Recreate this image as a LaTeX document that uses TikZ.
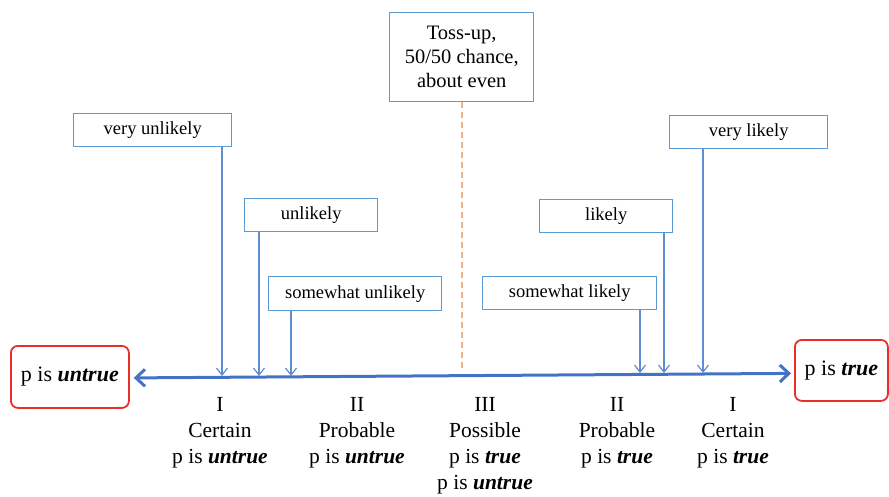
\documentclass[tikz,border=0pt]{standalone}
\usepackage{fontspec}
\setmainfont{Liberation Serif}
\usetikzlibrary{arrows.meta,calc}
\definecolor{boxblue}{RGB}{91,155,213}
\definecolor{lineblue}{RGB}{95,140,210}
\definecolor{axisblue}{RGB}{68,114,196}
\definecolor{boxred}{RGB}{232,48,40}
\definecolor{dashorange}{RGB}{244,177,131}
\tikzset{
  x=1pt, y=-1pt,
  labelbox/.style={draw=boxblue, line width=1.4pt, fill=white, inner sep=0pt,
    font=\fontsize{18.5}{22}\selectfont, anchor=north west},
  endbox/.style={draw=boxred, line width=1.8pt, rounded corners=7pt, inner sep=0pt,
    font=\fontsize{22}{26}\selectfont, anchor=north west},
  pointer/.style={draw=lineblue, line width=1.2pt,
    -{Straight Barb[length=7pt,width=11pt,line width=1.2pt]}},
  zone/.style={align=center, font=\fontsize{21.5}{26}\selectfont, anchor=north, inner sep=0pt}
}
\newcommand{\bi}[1]{\textbf{\textit{#1}}}
\begin{document}
\begin{tikzpicture}
\useasboundingbox (0,0) rectangle (889,496);

% central toss-up box and dashed divider
\node[labelbox, minimum width=144pt, minimum height=89pt, align=center,
  font=\fontsize{20.5}{24}\selectfont] (toss) at (389,12)
  {Toss-up,\\50/50 chance,\\about even};
\coordinate (mid) at (462,372);
\draw[dashorange, line width=2.2pt, dash pattern=on 6pt off 4pt] (toss.south -| mid) -- (mid);

% probability labels
\node[labelbox, minimum width=158pt, minimum height=33pt] (vu) at (73,113) {very unlikely};
\node[labelbox, minimum width=133pt, minimum height=33pt] (u)  at (244,198) {unlikely};
\node[labelbox, minimum width=173pt, minimum height=34pt] (su) at (268,276) {somewhat unlikely};
\node[labelbox, minimum width=158pt, minimum height=33pt] (vl) at (669,115) {very likely};
\node[labelbox, minimum width=133pt, minimum height=33pt] (l)  at (539,199) {likely};
\node[labelbox, minimum width=174pt, minimum height=33pt] (sl) at (482,276) {somewhat likely};

% end points of the scale
\node[endbox, minimum width=118pt, minimum height=62pt] (untrue) at (10,345) {p is \bi{untrue}};
\node[endbox, minimum width=93pt, minimum height=61pt] (true) at (794,339) {p is \bi{true}};

% the scale itself
\draw[axisblue, line width=3pt,
  {Straight Barb[length=9pt,width=17pt,line width=3pt]}-{Straight Barb[length=9pt,width=17pt,line width=3pt]}]
  ($(untrue.east)+(4,1)$) -- ($(true.west)+(-3,3)$);

% pointers onto the scale
\coordinate (pvu) at (222,376);
\coordinate (pu)  at (259,376);
\coordinate (psu) at (291,376);
\coordinate (psl) at (640,373);
\coordinate (pl)  at (664,373);
\coordinate (pvl) at (703,373);
\draw[pointer] (vu.south -| pvu) -- (pvu);
\draw[pointer] (u.south -| pu) -- (pu);
\draw[pointer] (su.south -| psu) -- (psu);
\draw[pointer] (sl.south -| psl) -- (psl);
\draw[pointer] (l.south -| pl) -- (pl);
\draw[pointer] (vl.south -| pvl) -- (pvl);

% zones under the scale
\node[zone] (z1) at (220,397) {I\\Certain\\p is \bi{untrue}};
\node[zone] (z2) at (357,397) {II\\Probable\\p is \bi{untrue}};
\node[zone] (z3) at (485,397) {III\\Possible\\p is \bi{true}\\p is \bi{untrue}};
\node[zone] (z4) at (617,397) {II\\Probable\\p is \bi{true}};
\node[zone] (z5) at (733,397) {I\\Certain\\p is \bi{true}};
\end{tikzpicture}
\end{document}
